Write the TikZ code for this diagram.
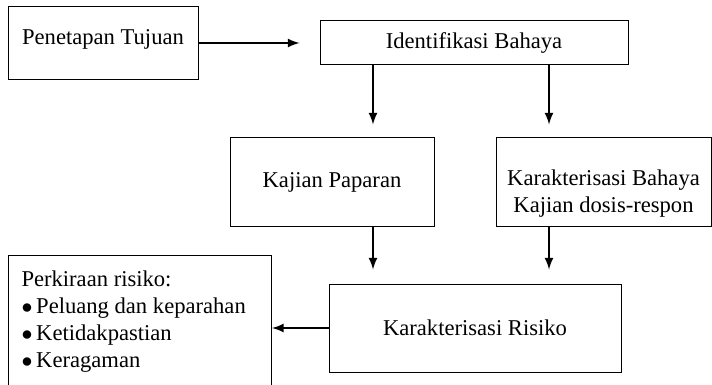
\documentclass[tikz,border=0pt]{standalone}
\usepackage{fontspec}
\setmainfont{Liberation Serif}
\usetikzlibrary{arrows,positioning}
\newcommand{\mylw}{0.5pt}
\tikzset{
    node style box/.style={draw,rectangle,line width=\mylw,align=center,inner sep=0pt},
    node style list/.style={draw,rectangle,line width=\mylw,align=flush left,anchor=north west,
                            inner xsep=6.5pt,inner ysep=7.5pt,text width=118.5pt,text depth=60pt},
    arrow style fleche/.style={->,line width=1pt},
}

\begin{document}
\begin{tikzpicture}[>=latex,x=1pt,y=-1pt,
    font=\fontsize{11.3}{13.5}\selectfont]
\useasboundingbox (0,0) rectangle (356,192.5);
% les boites
\node [node style box,minimum width=95pt,minimum height=36.5pt,
       text height=8pt,text depth=6.5pt] (tujuan) at (51.5,21.75)
    {Penetapan Tujuan};
\node [node style box,minimum width=154pt,minimum height=22pt] (identifikasi) at (237,21.5)
    {Identifikasi Bahaya};
\node [node style box,minimum width=102pt,minimum height=44pt] (paparan) at (166,91)
    {Kajian Paparan};
\node [node style box,minimum width=107.5pt,minimum height=44pt,
       text height=33.2pt,text depth=2.5pt] (karbahaya) at (301.75,91)
    {Karakterisasi Bahaya\\Kajian dosis-respon};
\node [node style box,minimum width=146pt,minimum height=44pt] (risiko) at (237.5,164)
    {Karakterisasi Risiko};
\node [node style list] (perkiraan) at (4,127.5)
    {Perkiraan risiko:\\
     $\bullet$\,Peluang dan keparahan\\
     $\bullet$\,Ketidakpastian\\
     $\bullet$\,Keragaman};
% les colonnes des fleches
\coordinate (colA) at (186.5,0);
\coordinate (colB) at (274.5,0);
% les fleches
\draw [arrow style fleche,shorten >=10pt] (tujuan.east |- identifikasi.west)
    -- (identifikasi.west);
\draw [arrow style fleche,shorten >=6.5pt] (identifikasi.south -| colA)
    -- (paparan.north -| colA);
\draw [arrow style fleche,shorten >=6.5pt] (identifikasi.south -| colB)
    -- (karbahaya.north -| colB);
\draw [arrow style fleche,shorten >=7pt] (paparan.south -| colA)
    -- (risiko.north -| colA);
\draw [arrow style fleche,shorten >=7pt] (karbahaya.south -| colB)
    -- (risiko.north -| colB);
\draw [arrow style fleche] (risiko.west)
    -- (risiko.west -| perkiraan.east);
\end{tikzpicture}
\end{document}
